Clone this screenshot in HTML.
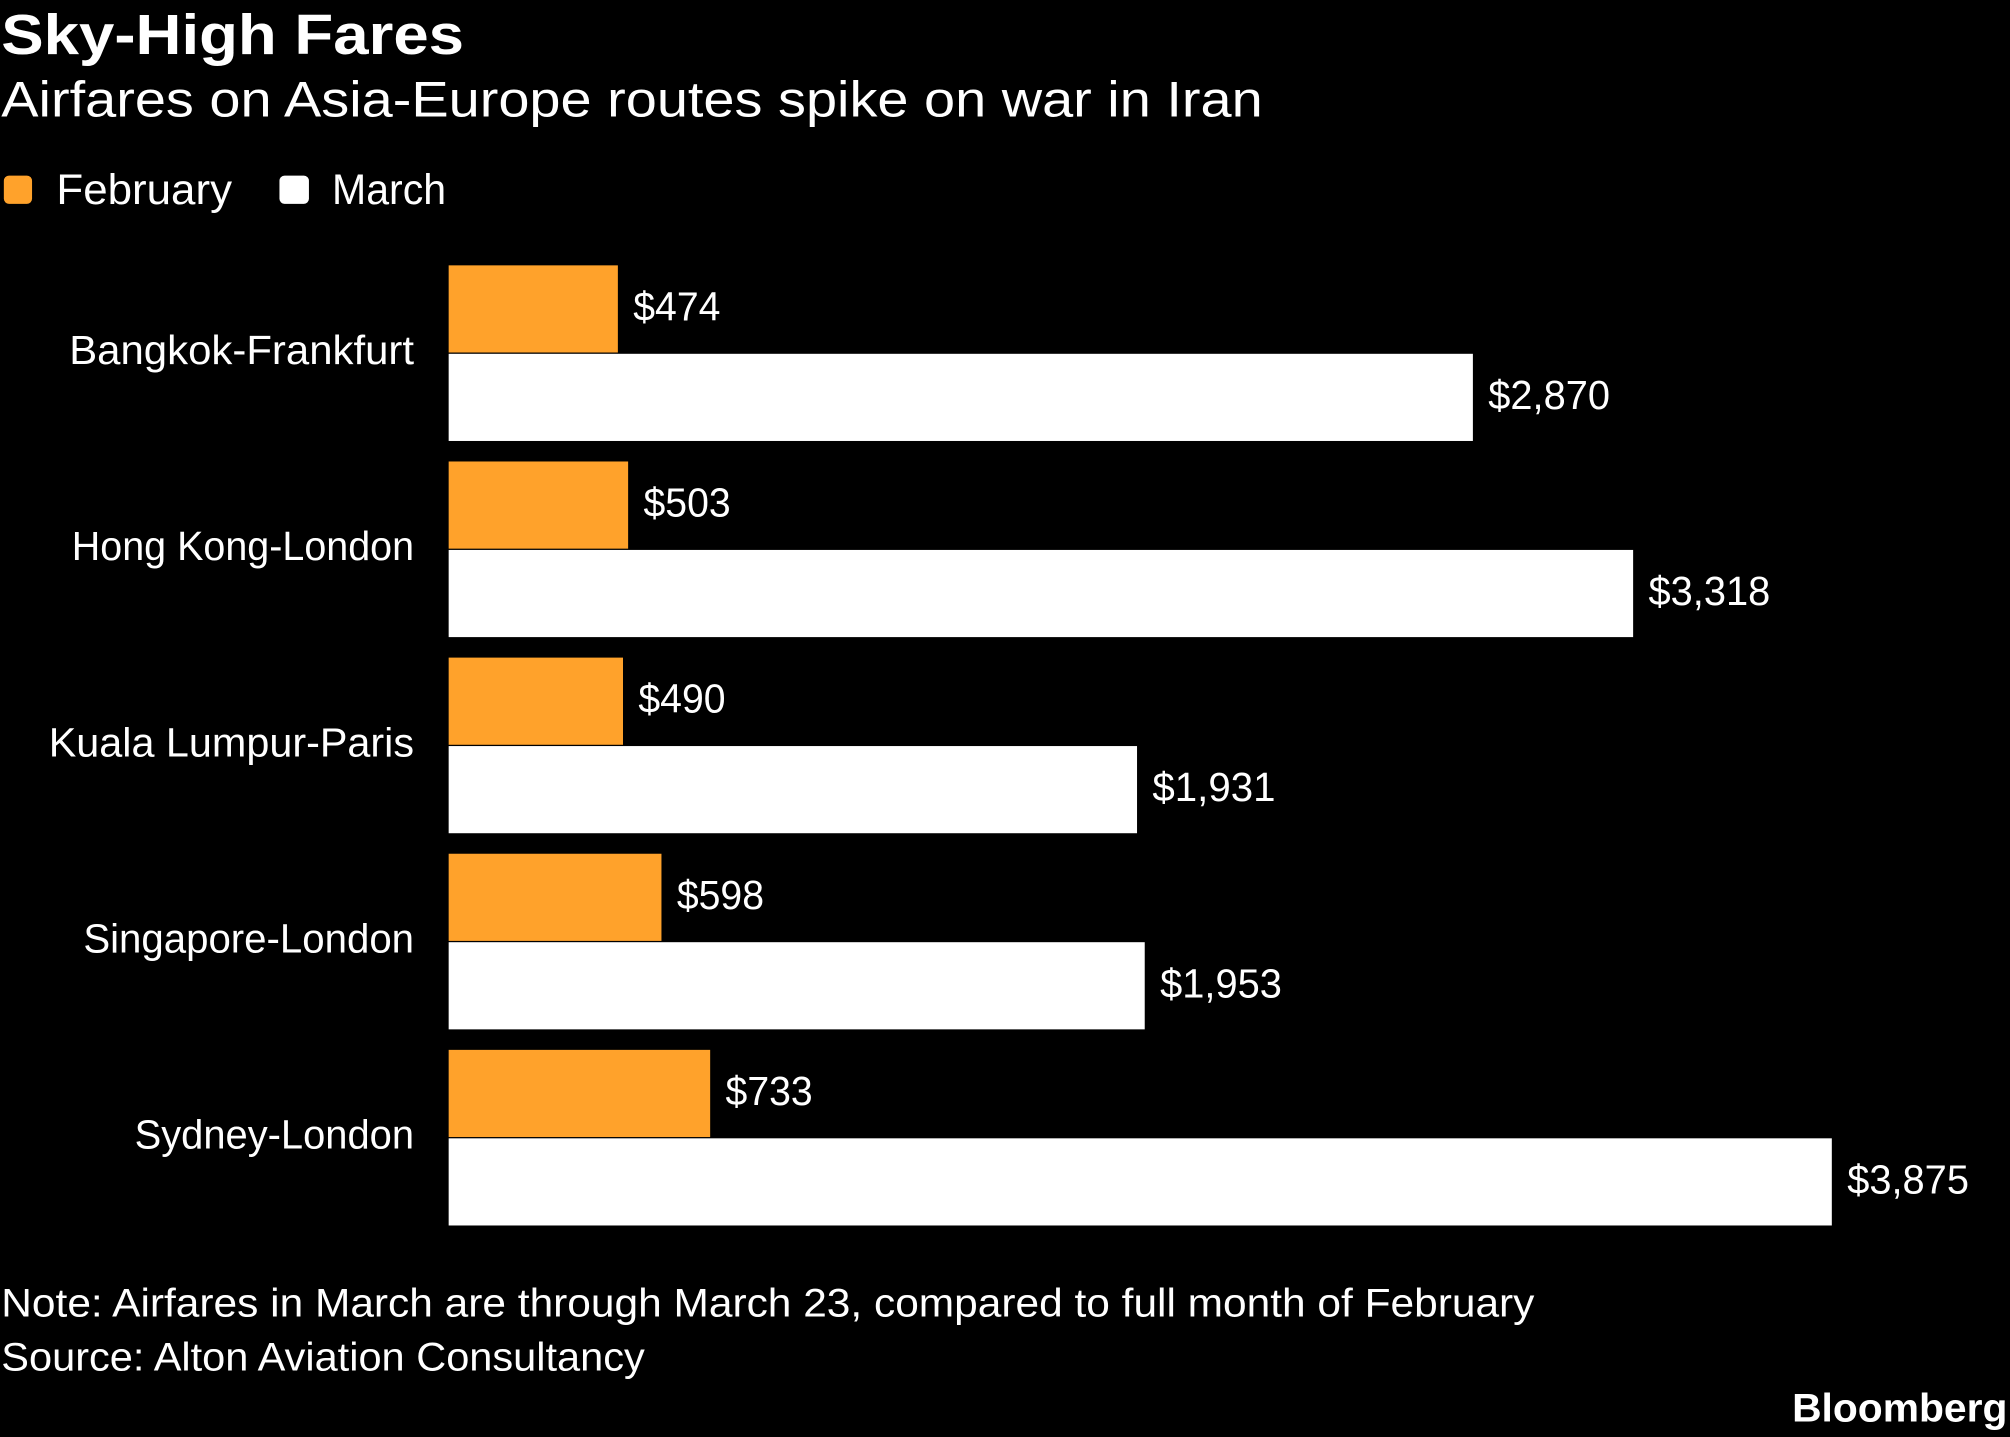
<!DOCTYPE html>
<html><head><meta charset="utf-8"><style>
html,body{margin:0;padding:0;background:#000;}
svg{display:block}
text{font-family:"Liberation Sans Narrow","Liberation Sans",sans-serif;fill:#fff}
</style></head><body>
<svg width="2010" height="1437" viewBox="0 0 1568 1121" xmlns="http://www.w3.org/2000/svg">
<rect width="1568" height="1121" fill="#000"/>
<text x="1" y="42" font-size="44" font-weight="bold" textLength="361" lengthAdjust="spacingAndGlyphs">Sky-High Fares</text>
<text x="1" y="91" font-size="39" textLength="984" lengthAdjust="spacingAndGlyphs">Airfares on Asia-Europe routes spike on war in Iran</text>
<rect x="3" y="137" width="22" height="22" rx="4" fill="#ffa22b"/>
<text x="44" y="159" font-size="33" textLength="137" lengthAdjust="spacingAndGlyphs">February</text>
<rect x="218" y="137" width="23" height="22" rx="4" fill="#fff"/>
<text x="259" y="159" font-size="33" textLength="89" lengthAdjust="spacingAndGlyphs">March</text>
<g font-size="32">
<!-- row 1 -->
<rect x="350" y="207" width="132" height="68" fill="#ffa22b"/>
<rect x="350" y="276" width="799" height="68" fill="#fff"/>
<text x="494" y="250" textLength="68" lengthAdjust="spacingAndGlyphs">$474</text>
<text x="1161" y="319" textLength="95" lengthAdjust="spacingAndGlyphs">$2,870</text>
<text x="323" y="284" text-anchor="end" textLength="269" lengthAdjust="spacingAndGlyphs">Bangkok-Frankfurt</text>
<!-- row 2 -->
<rect x="350" y="360" width="140" height="68" fill="#ffa22b"/>
<rect x="350" y="429" width="924" height="68" fill="#fff"/>
<text x="502" y="403" textLength="68" lengthAdjust="spacingAndGlyphs">$503</text>
<text x="1286" y="472" textLength="95" lengthAdjust="spacingAndGlyphs">$3,318</text>
<text x="323" y="437" text-anchor="end" textLength="267" lengthAdjust="spacingAndGlyphs">Hong Kong-London</text>
<!-- row 3 -->
<rect x="350" y="513" width="136" height="68" fill="#ffa22b"/>
<rect x="350" y="582" width="537" height="68" fill="#fff"/>
<text x="498" y="556" textLength="68" lengthAdjust="spacingAndGlyphs">$490</text>
<text x="899" y="625" textLength="96" lengthAdjust="spacingAndGlyphs">$1,931</text>
<text x="323" y="590" text-anchor="end" textLength="285" lengthAdjust="spacingAndGlyphs">Kuala Lumpur-Paris</text>
<!-- row 4 -->
<rect x="350" y="666" width="166" height="68" fill="#ffa22b"/>
<rect x="350" y="735" width="543" height="68" fill="#fff"/>
<text x="528" y="709" textLength="68" lengthAdjust="spacingAndGlyphs">$598</text>
<text x="905" y="778" textLength="95" lengthAdjust="spacingAndGlyphs">$1,953</text>
<text x="323" y="743" text-anchor="end" textLength="258" lengthAdjust="spacingAndGlyphs">Singapore-London</text>
<!-- row 5 -->
<rect x="350" y="819" width="204" height="68" fill="#ffa22b"/>
<rect x="350" y="888" width="1079" height="68" fill="#fff"/>
<text x="566" y="862" textLength="68" lengthAdjust="spacingAndGlyphs">$733</text>
<text x="1441" y="931" textLength="95" lengthAdjust="spacingAndGlyphs">$3,875</text>
<text x="323" y="896" text-anchor="end" textLength="218" lengthAdjust="spacingAndGlyphs">Sydney-London</text>
</g>
<text x="1" y="1027" font-size="31" textLength="1196" lengthAdjust="spacingAndGlyphs">Note: Airfares in March are through March 23, compared to full month of February</text>
<text x="1" y="1069" font-size="31" textLength="502" lengthAdjust="spacingAndGlyphs">Source: Alton Aviation Consultancy</text>
<text x="1566" y="1109" font-size="31" font-weight="bold" text-anchor="end" textLength="168" lengthAdjust="spacingAndGlyphs">Bloomberg</text>
</svg>
</body></html>
